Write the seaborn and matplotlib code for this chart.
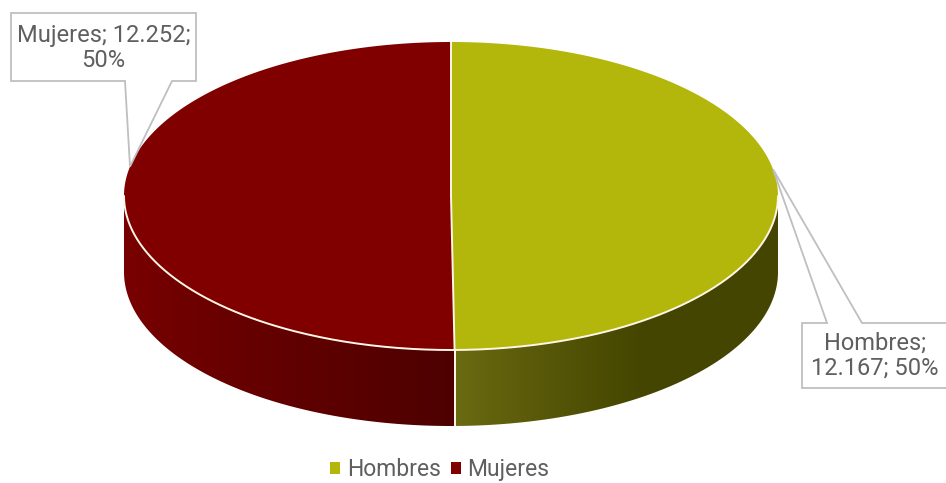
import numpy as np
import matplotlib
matplotlib.use("Agg")
import matplotlib.pyplot as plt
import seaborn as sns
from matplotlib.patches import Polygon, Rectangle
from matplotlib.colors import to_rgb

# ---- data -------------------------------------------------------------
categories = ["Hombres", "Mujeres"]
counts = [12167, 12252]
top_colors = ["#b3b70b", "#800000"]
side_light = ["#6b6b12", "#7a0000"]
side_dark = ["#444500", "#4e0000"]

sns.set_theme(style="white")
plt.rcParams["font.family"] = ["Roboto", "DejaVu Sans"]

TEXT_GRAY = "#5f5f5f"
BOX_GRAY = "#bfbfbf"

fig = plt.figure(figsize=(9.46, 4.83), dpi=100)
ax = fig.add_axes([0, 0, 1, 1])
ax.set_xlim(0, 946)
ax.set_ylim(483, 0)
ax.axis("off")

# ---- 3-D pie geometry (pixel space, y pointing down) -------------------
cx, cy, rx, ry, depth = 451.0, 196.0, 327.0, 154.0, 76.0


def rim(theta_deg, dz=0.0):
    t = np.radians(theta_deg)
    return cx + rx * np.sin(t), cy - ry * np.cos(t) + dz


total = float(sum(counts))
shares = [c / total for c in counts]
starts = np.concatenate([[0.0], np.cumsum(shares)[:-1]]) * 360.0
ends = np.cumsum(shares) * 360.0

# side walls (only the front half, 90..270 degrees, is visible),
# shaded with a horizontal gradient clipped to the wall outline
for i in range(len(categories)):
    a0, a1 = max(starts[i], 90.0), min(ends[i], 270.0)
    if a1 <= a0:
        continue
    th = np.linspace(a0, a1, 300)
    upper = [rim(t) for t in th]
    lower = [rim(t, depth) for t in th[::-1]]
    wall = Polygon(upper + lower, closed=True, facecolor="none",
                   edgecolor="none", zorder=2)
    ax.add_patch(wall)
    xs = [p[0] for p in upper]
    xmin, xmax = min(xs), max(xs)
    ytop = min(p[1] for p in upper)
    ybot = max(p[1] for p in lower)
    f = np.linspace(0, 1, 256)
    f = np.clip(f * 1.7, 0, 1) ** 0.9 if i == 0 else f ** 0.8
    c0, c1 = np.array(to_rgb(side_light[i])), np.array(to_rgb(side_dark[i]))
    grad = (c0[None, :] + (c1 - c0)[None, :] * f[:, None])[None, :, :]
    im = ax.imshow(grad, extent=(xmin, xmax, ybot, ytop), aspect="auto",
                   interpolation="bilinear", zorder=2)
    im.set_clip_path(wall)

# top faces
for i in range(len(categories)):
    th = np.linspace(starts[i], ends[i], 300)
    pts = [(cx, cy)] + [rim(t) for t in th]
    ax.add_patch(Polygon(pts, closed=True, facecolor=top_colors[i],
                         edgecolor="none", zorder=3))

ax.set_xlim(0, 946)
ax.set_ylim(483, 0)

# white highlight lines: front rim, seams
HL = "#fff6e8"
th = np.linspace(90, 270, 300)
fx, fy = zip(*[rim(t) for t in th])
ax.plot(fx, fy, color=HL, lw=1.4, zorder=4)
for i in range(len(categories)):
    x0, y0 = rim(starts[i])
    ax.plot([cx, x0], [cy, y0], color=HL, lw=1.4, zorder=4)
    if 90 <= starts[i] <= 270:
        ax.plot([x0, x0], [y0, y0 + depth], color=HL, lw=1.4, zorder=4)
x0, y0 = rim(ends[0])
ax.plot([x0, x0], [y0, y0 + depth], color=HL, lw=1.4, zorder=4)


def fmt(v):
    return f"{v:,}".replace(",", ".")


# ---- callout labels --------------------------------------------------
pct = [f"{round(s * 100):.0f}%" for s in shares]

# Mujeres (upper left)
ax_m = rim(281)
ax.add_patch(Polygon([(11, 13), (196, 13), (196, 81), (172, 81), ax_m,
                      (125, 81), (11, 81)], closed=True, facecolor="white",
                     edgecolor=BOX_GRAY, lw=1.3, zorder=5))
ax.text(103.5, 48, f"{categories[1]}; {fmt(counts[1])};\n{pct[1]}",
        ha="center", va="center", fontsize=17,
        color=TEXT_GRAY, linespacing=1.1, zorder=6)

# Hombres (lower right)
ax_h = rim(80)
ax.add_patch(Polygon([(802, 323), (827, 323), ax_h, (862, 323), (950, 323),
                      (950, 388), (802, 388)], closed=True, facecolor="white",
                     edgecolor=BOX_GRAY, lw=1.3, zorder=5))
ax.text(875, 356, f"{categories[0]};\n{fmt(counts[0])}; {pct[0]}",
        ha="center", va="center", fontsize=17,
        color=TEXT_GRAY, linespacing=1.1, zorder=6)

# ---- legend ----------------------------------------------------------
handles = [Rectangle((0, 0), 1, 1, facecolor=c, edgecolor="none") for c in top_colors]
leg = ax.legend(handles, categories, loc="center", bbox_to_anchor=(0.465, 0.027),
                ncol=2, frameon=False, handlelength=0.42, handleheight=0.42,
                handletextpad=0.3, columnspacing=0.45,
                prop={"size": 16.5})
for t in leg.get_texts():
    t.set_color(TEXT_GRAY)

fig.savefig("out.png", dpi=100)
